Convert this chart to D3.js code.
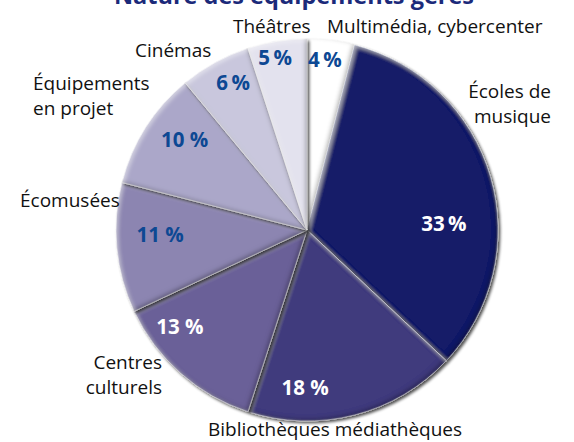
<!DOCTYPE html>
<html>
<head>
<meta charset="utf-8">
<script src="https://cdn.jsdelivr.net/npm/d3@7"></script>
<style>
  body { margin: 0; background: #fff; }
  svg text { font-family: "Open Sans", "DejaVu Sans", sans-serif; }
</style>
</head>
<body>
<div id="chart"></div>
<script>
// data
var categories = ["Multimédia, cybercenter", "Écoles de musique", "Bibliothèques médiathèques",
    "Centres culturels", "Écomusées", "Équipements en projet", "Cinémas", "Théâtres"];
var shares = [4, 33, 18, 13, 11, 10, 6, 5];
var shareLabels = ["4\u2009%", "33\u2009%", "18 %", "13 %", "11 %", "10 %", "6\u2009%", "5\u2009%"];
var nameLines = [["Multimédia, cybercenter"], ["Écoles de", "musique"], ["Bibliothèques médiathèques"],
    ["Centres", "culturels"], ["Écomusées"], ["Équipements", "en projet"], ["Cinémas"], ["Théâtres"]];
var title = "Nature des équipements gérés";

// layout
var W = 574, H = 442, cx = 307, cy = 230, R = 191;
var fills = ["#ffffff", "#121f67", "#403a7d", "#6a6198", "#8c85b1", "#aba7c9", "#c9c7dd", "#e3e2ee"];
var pctColor = ["#0d4893", "#fff", "#fff", "#fff", "#0d4893", "#0d4893", "#0d4893", "#0d4893"];
// percent label placement: [angle deg clockwise from top, radius]
var pctPos = [[6, 171], [87.5, 137], [180.7, 158], [232.6, 160], [268, 147], [306.4, 152], [333.4, 165], [349.5, 175]];
// outside name placement relative to pie centre: [dx, dy of first baseline, anchor]
var namePos = [[20, -197, "start"], [244, -132, "end"], [-99, 206, "start"], [-145, 139, "end"],
    [-287, -23, "start"], [-274, -140, "start"], [-172, -173, "start"], [-74, -197, "start"]];

var svg = d3.select("#chart").append("svg").attr("width", W).attr("height", H);
var defs = svg.append("defs");

var f = defs.append("filter").attr("id", "bevel")
    .attr("x", "-10%").attr("y", "-10%").attr("width", "120%").attr("height", "120%");
f.append("feGaussianBlur").attr("in", "SourceAlpha").attr("stdDeviation", 2.2).attr("result", "blur");
f.append("feOffset").attr("in", "blur").attr("dx", -2).attr("dy", -2).attr("result", "offBlur");
f.append("feComposite").attr("in", "SourceAlpha").attr("in2", "offBlur").attr("operator", "out").attr("result", "rim");
f.append("feFlood").attr("flood-color", "#000").attr("flood-opacity", 0.55).attr("result", "dark");
f.append("feComposite").attr("in", "dark").attr("in2", "rim").attr("operator", "in").attr("result", "innerShadow");
f.append("feOffset").attr("in", "blur").attr("dx", 2).attr("dy", 2).attr("result", "offBlur2");
f.append("feComposite").attr("in", "SourceAlpha").attr("in2", "offBlur2").attr("operator", "out").attr("result", "rim2");
f.append("feFlood").attr("flood-color", "#fff").attr("flood-opacity", 0.45).attr("result", "light");
f.append("feComposite").attr("in", "light").attr("in2", "rim2").attr("operator", "in").attr("result", "innerLight");
f.append("feOffset").attr("in", "SourceAlpha").attr("dx", 1.5).attr("dy", 1.5).attr("result", "dropOff");
f.append("feGaussianBlur").attr("in", "dropOff").attr("stdDeviation", 1.4).attr("result", "dropBlur");
f.append("feComponentTransfer").attr("in", "dropBlur").attr("result", "drop")
  .append("feFuncA").attr("type", "linear").attr("slope", 0.7);
var m = f.append("feMerge");
m.append("feMergeNode").attr("in", "drop");
m.append("feMergeNode").attr("in", "SourceGraphic");
m.append("feMergeNode").attr("in", "innerShadow");
m.append("feMergeNode").attr("in", "innerLight");

svg.append("text")
    .attr("x", 294).attr("y", 4)
    .attr("text-anchor", "middle")
    .style("font-size", "23.5px").style("font-weight", "bold")
    .style("fill", "#1b2a7a")
    .text(title);

var pie = d3.pie().sort(null).value(function(d) { return d; });
var arc = d3.arc().innerRadius(0).outerRadius(R);
var arcs = pie(shares);

var g = svg.append("g").attr("transform", "translate(" + cx + "," + cy + ")");

g.selectAll("path.slice")
    .data(arcs)
    .enter().append("path")
    .attr("class", "slice")
    .attr("d", arc)
    .attr("fill", function(d, i) { return fills[i]; })
    .attr("stroke", "#ffffff")
    .attr("stroke-width", 0.6)
    .attr("filter", "url(#bevel)");

g.selectAll("text.pct")
    .data(arcs)
    .enter().append("text")
    .attr("class", "pct")
    .attr("x", function(d, i) { return pctPos[i][1] * Math.sin(pctPos[i][0] * Math.PI / 180); })
    .attr("y", function(d, i) { return -pctPos[i][1] * Math.cos(pctPos[i][0] * Math.PI / 180); })
    .attr("dy", "0.35em")
    .attr("text-anchor", "middle")
    .style("font-size", "20.5px").style("font-weight", "bold")
    .style("fill", function(d, i) { return pctColor[i]; })
    .text(function(d, i) { return shareLabels[i]; });

var names = g.selectAll("text.name")
    .data(categories)
    .enter().append("text")
    .attr("class", "name")
    .attr("x", function(d, i) { return namePos[i][0]; })
    .attr("y", function(d, i) { return namePos[i][1]; })
    .attr("text-anchor", function(d, i) { return namePos[i][2]; })
    .style("font-size", "19px")
    .style("fill", "#111");

names.selectAll("tspan")
    .data(function(d, i) { return nameLines[i].map(function(l) { return {l: l, a: namePos[i]}; }); })
    .enter().append("tspan")
    .attr("x", function(d) { return d.a[0]; })
    .attr("dy", function(d, j) { return j ? 25 : 0; })
    .text(function(d) { return d.l; });
</script>
</body>
</html>
